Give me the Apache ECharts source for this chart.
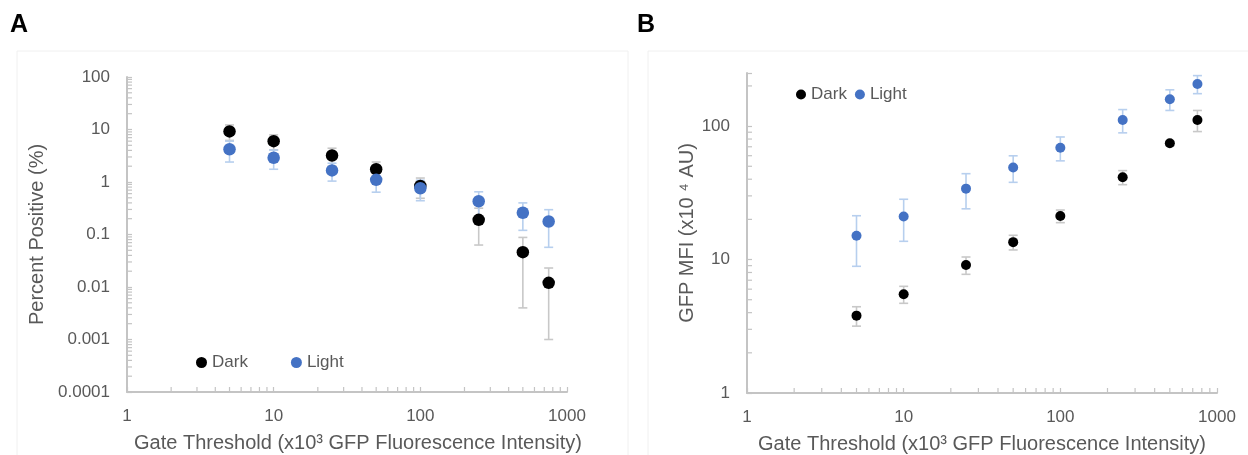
<!DOCTYPE html>
<html>
<head>
<meta charset="utf-8">
<script src="https://cdn.jsdelivr.net/npm/echarts@6/dist/echarts.min.js"></script>
<style>
  html, body { margin: 0; padding: 0; background: #fff; }
  #main { width: 1248px; height: 455px; }
</style>
</head>
<body>
<div id="main"></div>
<script>
// gate thresholds (x10^3)
var thresholds = [5, 10, 25, 50, 100, 250, 500, 750];

// panel A - percent positive
var darkPct = [9.2, 6.0, 3.2, 1.75, 0.84, 0.19, 0.046, 0.012];
var darkPctErr = [3.0, 1.9, 1.2, 0.65, 0.35, 0.127, 0.042, 0.011];
var lightPct = [4.2, 2.9, 1.66, 1.1, 0.76, 0.43, 0.26, 0.177];
var lightPctErr = [1.8, 1.15, 0.62, 0.46, 0.32, 0.22, 0.14, 0.12];

// panel B - GFP MFI
var darkMfi = [3.8, 5.5, 9.1, 13.5, 21.2, 41.4, 74.3, 111];
var darkMfiErr = [0.63, 0.8, 1.35, 1.7, 2.3, 5, 3, 20];
var lightMfi = [15.1, 21.0, 34.0, 48.9, 68.9, 111, 159, 207];
var lightMfiErr = [6.2, 7.3, 10, 11, 14, 22, 28, 32];

var xTickLabels = ['1', '10', '100', '1000'];
var yTickLabelsA = ['0.0001', '0.001', '0.01', '0.1', '1', '10', '100'];
var yTickLabelsB = ['1', '10', '100'];

var FONT = 'Liberation Sans, Arial, sans-serif';
var TXT = '#595959';
var AXIS = '#c4c4c4';
var BLUE = '#4472C4';

function pts(ys) {
  return thresholds.map(function (x, i) { return [x, ys[i]]; });
}
function errPts(ys, es) {
  return thresholds.map(function (x, i) { return [x, ys[i], es[i]]; });
}
// 2..9 of every decade between lo and hi
function minorVals(lo, hi) {
  var out = [];
  for (var d = lo; d < hi; d *= 10) {
    for (var k = 2; k <= 9; k++) {
      var v = +(d * k).toPrecision(3);
      if (v <= hi) out.push(v);
    }
  }
  return out;
}
function labelFmt(list) {
  return function (v) {
    for (var i = 0; i < list.length; i++) {
      if (Math.abs(Math.log10(v) - Math.log10(+list[i])) < 1e-6) return list[i];
    }
    return '';
  };
}

function errSeries(idx, data, color, cap) {
  return {
    type: 'custom', xAxisIndex: idx, yAxisIndex: idx, silent: true, clip: false,
    data: data,
    renderItem: function (params, api) {
      var x = api.value(0), y = api.value(1), e = api.value(2);
      var hi = api.coord([x, y + e]);
      var lo = api.coord([x, y - e]);
      var st = { stroke: color, lineWidth: 1.6 };
      return {
        type: 'group',
        children: [
          { type: 'line', shape: { x1: hi[0], y1: hi[1], x2: lo[0], y2: lo[1] }, style: st },
          { type: 'line', shape: { x1: hi[0] - cap, y1: hi[1], x2: hi[0] + cap, y2: hi[1] }, style: st },
          { type: 'line', shape: { x1: lo[0] - cap, y1: lo[1], x2: lo[0] + cap, y2: lo[1] }, style: st }
        ]
      };
    }
  };
}

// minor ticks drawn on the axis through the axis scales
function minorTickSeries(idx, xVals, yVals, xMin, yMin) {
  var data = xVals.map(function (v) { return [v, yMin, 0]; })
    .concat(yVals.map(function (v) { return [xMin, v, 1]; }));
  return {
    type: 'custom', xAxisIndex: idx, yAxisIndex: idx, silent: true, clip: false,
    data: data,
    renderItem: function (params, api) {
      var p = api.coord([api.value(0), api.value(1)]);
      var vert = api.value(2) === 0;
      return {
        type: 'line',
        shape: vert ? { x1: p[0], y1: p[1], x2: p[0], y2: p[1] - 5 }
                    : { x1: p[0], y1: p[1], x2: p[0] + 5, y2: p[1] },
        style: { stroke: AXIS, lineWidth: 1.2 }
      };
    }
  };
}

function xAxis(idx, padLeft) {
  return {
    type: 'log', logBase: 10, gridIndex: idx, min: 1, max: 1000, splitNumber: 3,
    name: 'Gate Threshold (x10\u00B3 GFP Fluorescence Intensity)',
    nameLocation: 'middle', nameGap: 41,
    nameTextStyle: { color: TXT, fontSize: 20, fontFamily: FONT, padding: [0, 0, 0, padLeft] },
    axisLine: { lineStyle: { color: AXIS, width: 2 } },
    axisTick: { inside: true, length: 5, lineStyle: { color: AXIS, width: 1.2 } },
    axisLabel: { color: TXT, fontSize: 17, fontFamily: FONT, margin: 16, formatter: labelFmt(xTickLabels) },
    splitLine: { show: false }
  };
}

function yAxis(idx, min, max, labels, name, gap, split) {
  return {
    type: 'log', logBase: 10, gridIndex: idx, min: min, max: max, splitNumber: split,
    name: name, nameLocation: 'middle', nameGap: gap,
    nameTextStyle: { color: TXT, fontSize: 20, fontFamily: FONT },
    axisLine: { lineStyle: { color: AXIS, width: 2 } },
    axisTick: { inside: true, length: 5, lineStyle: { color: AXIS, width: 1.2 } },
    axisLabel: { color: TXT, fontSize: 17, fontFamily: FONT, margin: 17, formatter: labelFmt(labels) },
    splitLine: { show: false }
  };
}

var chart = echarts.init(document.getElementById('main'));

var option = {
  animation: false,
  backgroundColor: '#fff',
  textStyle: { fontFamily: FONT },
  graphic: [
    { type: 'rect', shape: { x: 17, y: 51, width: 611, height: 420 }, style: { fill: 'none', stroke: '#f0f0f0', lineWidth: 1 }, silent: true },
    { type: 'rect', shape: { x: 648, y: 51, width: 620, height: 420 }, style: { fill: 'none', stroke: '#f0f0f0', lineWidth: 1 }, silent: true },
    { type: 'text', left: 10, top: 13, style: { text: 'A', fill: '#000', font: 'bold 25px ' + FONT } },
    { type: 'text', left: 637, top: 13, style: { text: 'B', fill: '#000', font: 'bold 25px ' + FONT } }
  ],
  grid: [
    { left: 127, top: 77, width: 440, height: 315, outerBoundsMode: 'none' },
    { left: 747, top: 73, width: 470, height: 320, outerBoundsMode: 'none' }
  ],
  legend: [
    {
      data: ['Dark', 'Light'], left: 196, top: 354, padding: 0, icon: 'circle',
      itemWidth: 11, itemHeight: 11, itemGap: 43,
      textStyle: { color: TXT, fontSize: 17, fontFamily: FONT }, selectedMode: false
    },
    {
      data: ['Dark', 'Light'], left: 796, top: 86, padding: 0, icon: 'circle',
      itemWidth: 10, itemHeight: 10, itemGap: 8,
      textStyle: { color: TXT, fontSize: 17, fontFamily: FONT }, selectedMode: false
    }
  ],
  xAxis: [xAxis(0, 22), xAxis(1, 0)],
  yAxis: [
    yAxis(0, 0.0001, 100, yTickLabelsA, 'Percent Positive (%)', 80, 6),
    yAxis(1, 1, 250, yTickLabelsB, 'GFP MFI (x10 \u2074 AU)', 50, 2)
  ],
  series: [
    minorTickSeries(0, minorVals(1, 1000), minorVals(0.0001, 100), 1, 0.0001),
    minorTickSeries(1, minorVals(1, 1000), minorVals(1, 250), 1, 1),

    errSeries(0, errPts(darkPct, darkPctErr), '#c8c8c8', 4.5),
    { name: 'Dark', type: 'scatter', xAxisIndex: 0, yAxisIndex: 0, symbolSize: 12.5,
      itemStyle: { color: '#000', opacity: 1 }, data: pts(darkPct) },
    errSeries(0, errPts(lightPct, lightPctErr), '#b7cfee', 4.5),
    { name: 'Light', type: 'scatter', xAxisIndex: 0, yAxisIndex: 0, symbolSize: 12.5,
      itemStyle: { color: BLUE, opacity: 1 }, data: pts(lightPct) },

    errSeries(1, errPts(darkMfi, darkMfiErr), '#c8c8c8', 4.5),
    { name: 'Dark', type: 'scatter', xAxisIndex: 1, yAxisIndex: 1, symbolSize: 10,
      itemStyle: { color: '#000', opacity: 1 }, data: pts(darkMfi) },
    errSeries(1, errPts(lightMfi, lightMfiErr), '#b7cfee', 4.5),
    { name: 'Light', type: 'scatter', xAxisIndex: 1, yAxisIndex: 1, symbolSize: 10,
      itemStyle: { color: BLUE, opacity: 1 }, data: pts(lightMfi) }
  ]
};

chart.setOption(option);
</script>
</body>
</html>
